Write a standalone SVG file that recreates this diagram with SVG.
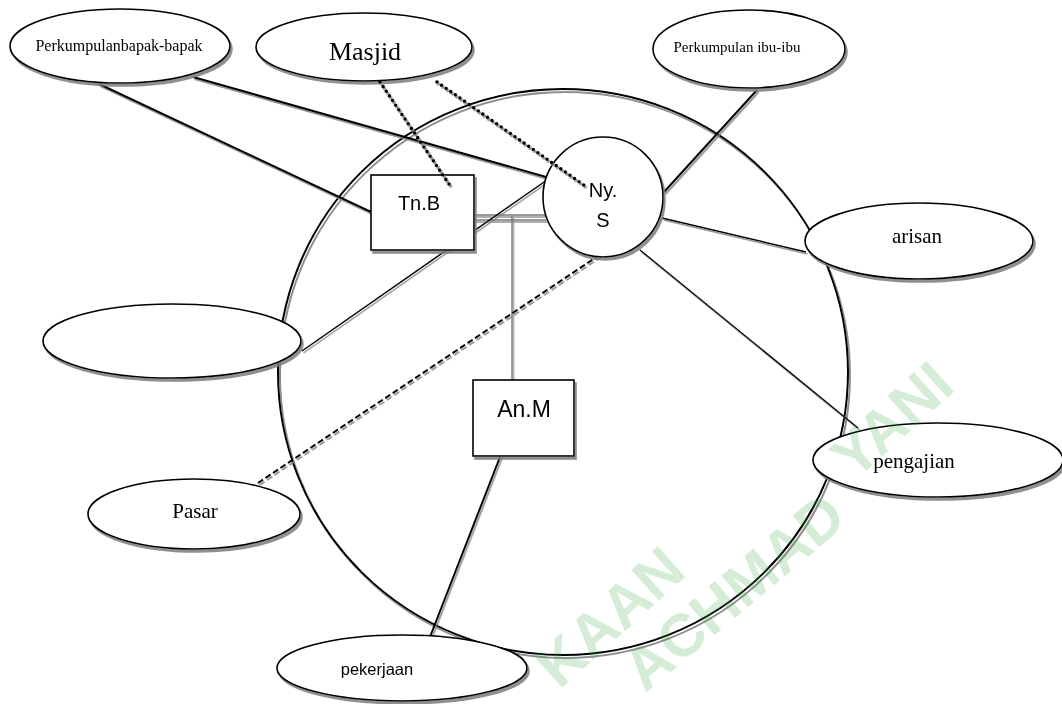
<svg xmlns="http://www.w3.org/2000/svg" width="1062" height="704" viewBox="0 0 1062 704">
<defs>
<filter id="sh" filterUnits="userSpaceOnUse" x="0" y="0" width="1062" height="704">
<feDropShadow dx="2" dy="3" stdDeviation="0.7" flood-color="#7a7a7a" flood-opacity="0.85"/>
</filter>
<filter id="shl" filterUnits="userSpaceOnUse" x="0" y="0" width="1062" height="704">
<feDropShadow dx="1.5" dy="2" stdDeviation="0.5" flood-color="#808080" flood-opacity="0.85"/>
</filter>
</defs>
<style>
.shape{fill:#fff;stroke:#000;stroke-width:1.6}
.ser{font-family:"Liberation Serif","Times New Roman",serif;fill:#000;text-anchor:middle}
.san{font-family:"Liberation Sans",Arial,sans-serif;fill:#000;text-anchor:middle}
.ln{stroke:#000;stroke-width:2;fill:none}
.thin{stroke:#000;stroke-width:1.5;fill:none}
.grey{stroke:#777;stroke-width:1.4;fill:none}
.dash{stroke:#000;stroke-width:2;fill:none;stroke-dasharray:6 3}
.dot{stroke:#000;stroke-width:3.6;fill:none;stroke-dasharray:0 5.6;stroke-linecap:round}
.wm{font-family:"Liberation Sans",Arial,sans-serif;font-weight:bold;font-size:60px;fill:#2da037;fill-opacity:0.2;text-anchor:middle;dominant-baseline:central}
</style>
<rect width="1062" height="704" fill="#fff"/>

<g id="household" filter="url(#sh)">
<ellipse cx="563" cy="372" rx="285" ry="283" fill="none" stroke="#000" stroke-width="2"/>
</g>

<g id="connectors" filter="url(#shl)">
<line class="ln" x1="99" y1="84" x2="371" y2="212"/>
<line class="ln" x1="193" y1="77" x2="546" y2="177"/>
<line class="ln" x1="757" y1="90" x2="664" y2="192"/>
<line class="thin" x1="662" y1="218" x2="806" y2="252"/>
<line class="thin" x1="640" y1="250" x2="858" y2="428"/>
<line class="grey" x1="474" y1="215" x2="546" y2="215"/>
<line class="grey" x1="474" y1="220" x2="546" y2="220"/>
<line class="grey" x1="512" y1="216" x2="512" y2="380"/>
<line class="thin" x1="302" y1="351" x2="547" y2="180"/>
<line class="dash" x1="258" y1="483" x2="598" y2="256"/>
<line class="ln" x1="500" y1="457" x2="430" y2="637" stroke-width="2.4"/>
</g>

<g id="n-bapak" filter="url(#sh)">
<ellipse class="shape" cx="120" cy="46" rx="110" ry="37"/>
<text class="ser" x="119" y="51" font-size="16">Perkumpulanbapak-bapak</text>
</g>
<g id="n-masjid" filter="url(#sh)">
<ellipse class="shape" cx="364" cy="47" rx="108" ry="34"/>
<text class="ser" x="365" y="60" font-size="26">Masjid</text>
</g>
<g id="n-ibu" filter="url(#sh)">
<ellipse class="shape" cx="749" cy="49" rx="96" ry="39"/>
<text class="ser" x="737" y="52" font-size="15">Perkumpulan ibu-ibu</text>
</g>
<g id="n-arisan" filter="url(#sh)">
<ellipse class="shape" cx="919" cy="241" rx="114" ry="38"/>
<text class="ser" x="917" y="243" font-size="21">arisan</text>
</g>
<g id="n-blank" filter="url(#sh)">
<ellipse class="shape" cx="172" cy="341" rx="129" ry="37"/>
</g>
<g id="n-pasar" filter="url(#sh)">
<ellipse class="shape" cx="194" cy="514" rx="106" ry="35"/>
<text class="ser" x="195" y="518" font-size="21">Pasar</text>
</g>
<g id="n-pengajian" filter="url(#sh)">
<ellipse class="shape" cx="938" cy="460" rx="125" ry="37"/>
<text class="ser" x="914" y="468" font-size="21">pengajian</text>
</g>
<g id="n-pekerjaan" filter="url(#sh)">
<ellipse class="shape" cx="402" cy="668" rx="125" ry="33"/>
<text class="san" x="377" y="675" font-size="16.5">pekerjaan</text>
</g>
<g id="n-tnb" filter="url(#sh)">
<rect class="shape" x="371" y="175" width="103" height="75"/>
<text class="san" x="419" y="210" font-size="20">Tn.B</text>
</g>
<g id="n-nys" filter="url(#sh)">
<circle class="shape" cx="603" cy="197" r="60"/>
<text class="san" x="603" y="197" font-size="20">Ny.</text>
<text class="san" x="603" y="227" font-size="20">S</text>
</g>
<g id="n-anm" filter="url(#sh)">
<rect class="shape" x="473" y="380" width="101" height="76"/>
<text class="san" x="524" y="417" font-size="23">An.M</text>
</g>

<g id="connectors-dotted" filter="url(#shl)">
<line class="dot" x1="380" y1="82" x2="451" y2="187"/>
<line class="dot" x1="437" y1="82" x2="588" y2="188"/>
</g>

<g id="watermark">
<text class="wm" transform="translate(610,617) rotate(-42)">KAAN</text>
<text class="wm" transform="translate(734,592) rotate(-40)">ACHMAD</text>
<text class="wm" transform="translate(892,420) rotate(-42)">YANI</text>
</g>
</svg>
